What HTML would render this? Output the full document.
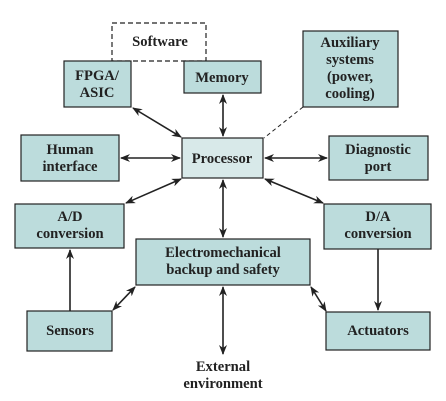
<!DOCTYPE html>
<html><head><style>body{margin:0;background:#fff}svg{display:block}
text{font-family:"Liberation Serif",serif;font-weight:bold;font-size:14.6px;fill:#222;text-anchor:middle}</style></head>
<body>
<svg width="446" height="401" viewBox="0 0 446 401">
<defs><marker id="a" markerWidth="10" markerHeight="8" refX="9" refY="4" orient="auto-start-reverse" markerUnits="userSpaceOnUse"><path d="M0,0 L10,4 L0,8 L3,4 z" fill="#222"/></marker></defs>
<g fill="#bcdcdc" stroke="#222" stroke-width="1.2">
<rect x="112" y="23" width="94" height="38" fill="#fff" stroke-dasharray="5,3"/>
<rect x="64" y="61" width="67" height="46"/>
<rect x="184" y="61" width="77" height="32"/>
<rect x="303" y="31" width="95" height="76"/>
<rect x="182" y="138" width="81" height="40" fill="#d8e9e9"/>
<rect x="21" y="135" width="98" height="46"/>
<rect x="329" y="136" width="99" height="44"/>
<rect x="15" y="204" width="109" height="44"/>
<rect x="324" y="204" width="107" height="45"/>
<rect x="136" y="239" width="174" height="46"/>
<rect x="27" y="311" width="85" height="40"/>
<rect x="326" y="312" width="104" height="38"/>
</g>
<g stroke="#222" stroke-width="1.6" fill="none">
<line x1="133" y1="108" x2="181" y2="137" marker-start="url(#a)" marker-end="url(#a)"/>
<line x1="223" y1="95" x2="223" y2="136" marker-start="url(#a)" marker-end="url(#a)"/>
<line x1="121" y1="158" x2="180" y2="158" marker-start="url(#a)" marker-end="url(#a)"/>
<line x1="265" y1="158" x2="327" y2="158" marker-start="url(#a)" marker-end="url(#a)"/>
<line x1="181" y1="179" x2="126" y2="203" marker-start="url(#a)" marker-end="url(#a)"/>
<line x1="223" y1="180" x2="223" y2="237" marker-start="url(#a)" marker-end="url(#a)"/>
<line x1="265" y1="179" x2="323" y2="203" marker-start="url(#a)" marker-end="url(#a)"/>
<line x1="70" y1="311" x2="70" y2="250" marker-end="url(#a)"/>
<line x1="378" y1="249" x2="378" y2="310" marker-end="url(#a)"/>
<line x1="113" y1="310" x2="135" y2="287" marker-start="url(#a)" marker-end="url(#a)"/>
<line x1="311" y1="287" x2="326" y2="311" marker-start="url(#a)" marker-end="url(#a)"/>
<line x1="223" y1="287" x2="223" y2="354" marker-start="url(#a)" marker-end="url(#a)"/>
<line x1="303" y1="107" x2="264" y2="138" stroke-width="1" stroke-dasharray="4,3"/>
</g>
<text x="160" y="46">Software</text>
<text x="97" y="80">FPGA/</text><text x="97" y="97">ASIC</text>
<text x="222" y="82">Memory</text>
<text x="350" y="47">Auxiliary</text><text x="350" y="64">systems</text><text x="350" y="81">(power,</text><text x="350" y="98">cooling)</text>
<text x="222" y="163">Processor</text>
<text x="70" y="154">Human</text><text x="70" y="171">interface</text>
<text x="378" y="154">Diagnostic</text><text x="378" y="171">port</text>
<text x="70" y="221">A/D</text><text x="70" y="238">conversion</text>
<text x="378" y="221">D/A</text><text x="378" y="238">conversion</text>
<text x="223" y="257">Electromechanical</text><text x="223" y="274">backup and safety</text>
<text x="70" y="335">Sensors</text>
<text x="378" y="335">Actuators</text>
<text x="223" y="371">External</text><text x="223" y="388">environment</text>
</svg>
</body></html>
